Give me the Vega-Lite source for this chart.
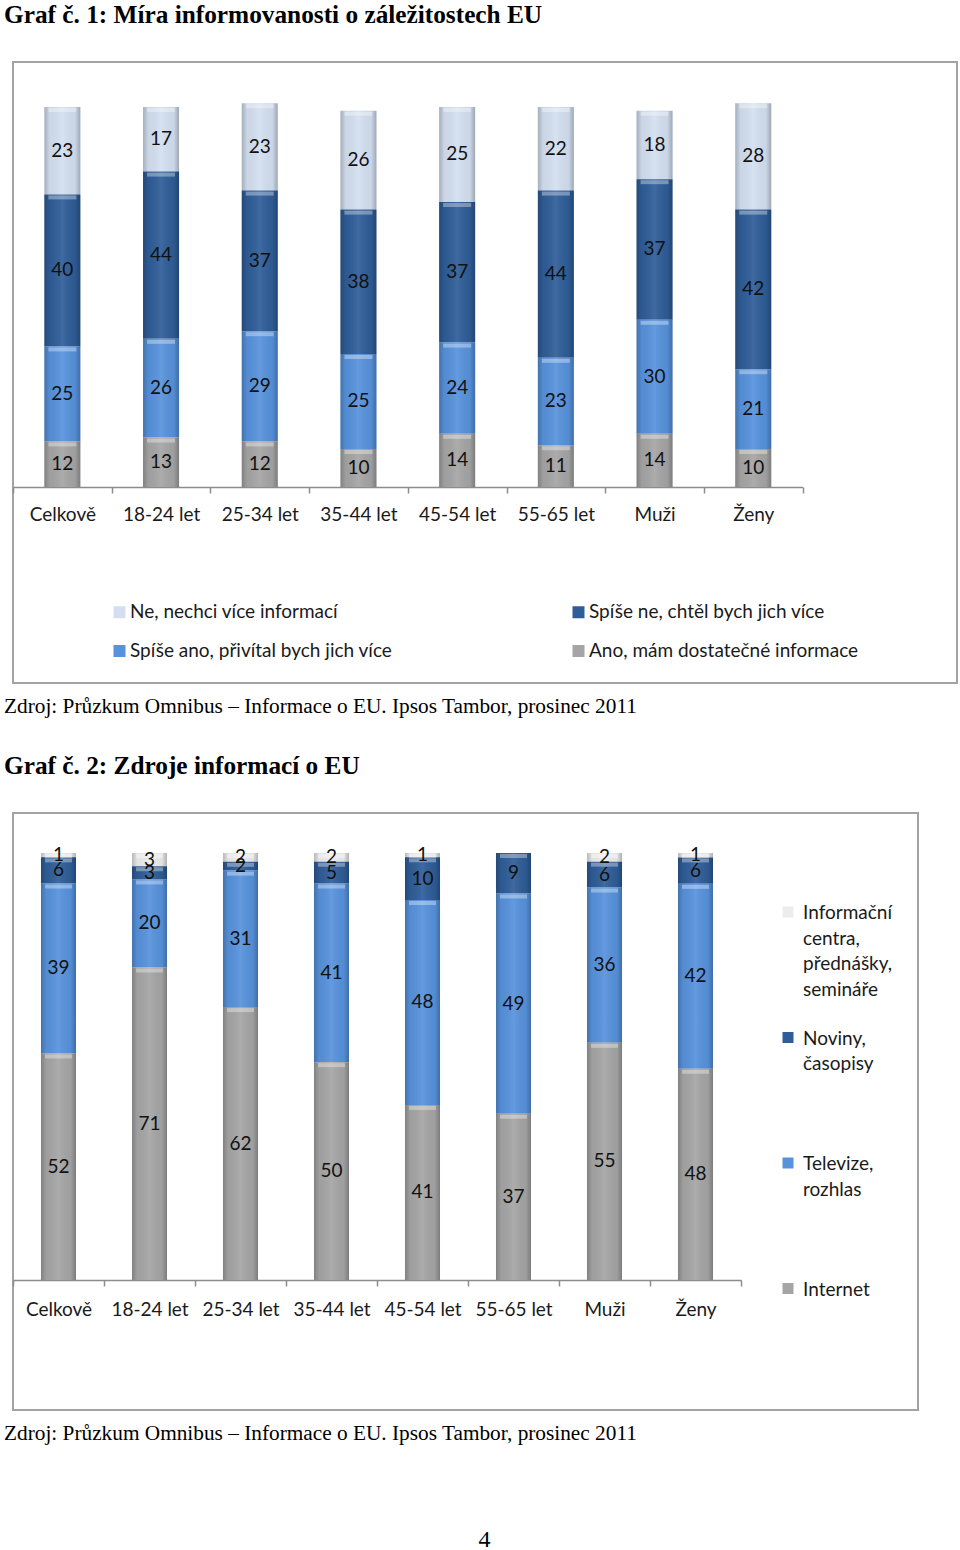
{
  "$schema": "https://vega.github.io/schema/vega-lite/v6.json",
  "background": "white",
  "padding": {"left": 3, "top": 1, "right": 0, "bottom": 0},
  "datasets": {
    "g1": [
      {"kat": "Celkově", "serie": "Ne, nechci více informací", "hodnota": 23, "poradi": 4},
      {"kat": "Celkově", "serie": "Spíše ne, chtěl bych jich více", "hodnota": 40, "poradi": 3},
      {"kat": "Celkově", "serie": "Spíše ano, přivítal bych jich více", "hodnota": 25, "poradi": 2},
      {"kat": "Celkově", "serie": "Ano, mám dostatečné informace", "hodnota": 12, "poradi": 1},
      {"kat": "18-24 let", "serie": "Ne, nechci více informací", "hodnota": 17, "poradi": 4},
      {"kat": "18-24 let", "serie": "Spíše ne, chtěl bych jich více", "hodnota": 44, "poradi": 3},
      {"kat": "18-24 let", "serie": "Spíše ano, přivítal bych jich více", "hodnota": 26, "poradi": 2},
      {"kat": "18-24 let", "serie": "Ano, mám dostatečné informace", "hodnota": 13, "poradi": 1},
      {"kat": "25-34 let", "serie": "Ne, nechci více informací", "hodnota": 23, "poradi": 4},
      {"kat": "25-34 let", "serie": "Spíše ne, chtěl bych jich více", "hodnota": 37, "poradi": 3},
      {"kat": "25-34 let", "serie": "Spíše ano, přivítal bych jich více", "hodnota": 29, "poradi": 2},
      {"kat": "25-34 let", "serie": "Ano, mám dostatečné informace", "hodnota": 12, "poradi": 1},
      {"kat": "35-44 let", "serie": "Ne, nechci více informací", "hodnota": 26, "poradi": 4},
      {"kat": "35-44 let", "serie": "Spíše ne, chtěl bych jich více", "hodnota": 38, "poradi": 3},
      {"kat": "35-44 let", "serie": "Spíše ano, přivítal bych jich více", "hodnota": 25, "poradi": 2},
      {"kat": "35-44 let", "serie": "Ano, mám dostatečné informace", "hodnota": 10, "poradi": 1},
      {"kat": "45-54 let", "serie": "Ne, nechci více informací", "hodnota": 25, "poradi": 4},
      {"kat": "45-54 let", "serie": "Spíše ne, chtěl bych jich více", "hodnota": 37, "poradi": 3},
      {"kat": "45-54 let", "serie": "Spíše ano, přivítal bych jich více", "hodnota": 24, "poradi": 2},
      {"kat": "45-54 let", "serie": "Ano, mám dostatečné informace", "hodnota": 14, "poradi": 1},
      {"kat": "55-65 let", "serie": "Ne, nechci více informací", "hodnota": 22, "poradi": 4},
      {"kat": "55-65 let", "serie": "Spíše ne, chtěl bych jich více", "hodnota": 44, "poradi": 3},
      {"kat": "55-65 let", "serie": "Spíše ano, přivítal bych jich více", "hodnota": 23, "poradi": 2},
      {"kat": "55-65 let", "serie": "Ano, mám dostatečné informace", "hodnota": 11, "poradi": 1},
      {"kat": "Muži", "serie": "Ne, nechci více informací", "hodnota": 18, "poradi": 4},
      {"kat": "Muži", "serie": "Spíše ne, chtěl bych jich více", "hodnota": 37, "poradi": 3},
      {"kat": "Muži", "serie": "Spíše ano, přivítal bych jich více", "hodnota": 30, "poradi": 2},
      {"kat": "Muži", "serie": "Ano, mám dostatečné informace", "hodnota": 14, "poradi": 1},
      {"kat": "Ženy", "serie": "Ne, nechci více informací", "hodnota": 28, "poradi": 4},
      {"kat": "Ženy", "serie": "Spíše ne, chtěl bych jich více", "hodnota": 42, "poradi": 3},
      {"kat": "Ženy", "serie": "Spíše ano, přivítal bych jich více", "hodnota": 21, "poradi": 2},
      {"kat": "Ženy", "serie": "Ano, mám dostatečné informace", "hodnota": 10, "poradi": 1}
    ],
    "g2": [
      {"kat": "Celkově", "serie": "Informační centra, přednášky, semináře", "hodnota": 1, "poradi": 4},
      {"kat": "Celkově", "serie": "Noviny, časopisy", "hodnota": 6, "poradi": 3},
      {"kat": "Celkově", "serie": "Televize, rozhlas", "hodnota": 39, "poradi": 2},
      {"kat": "Celkově", "serie": "Internet", "hodnota": 52, "poradi": 1},
      {"kat": "18-24 let", "serie": "Informační centra, přednášky, semináře", "hodnota": 3, "poradi": 4},
      {"kat": "18-24 let", "serie": "Noviny, časopisy", "hodnota": 3, "poradi": 3},
      {"kat": "18-24 let", "serie": "Televize, rozhlas", "hodnota": 20, "poradi": 2},
      {"kat": "18-24 let", "serie": "Internet", "hodnota": 71, "poradi": 1},
      {"kat": "25-34 let", "serie": "Informační centra, přednášky, semináře", "hodnota": 2, "poradi": 4},
      {"kat": "25-34 let", "serie": "Noviny, časopisy", "hodnota": 2, "poradi": 3},
      {"kat": "25-34 let", "serie": "Televize, rozhlas", "hodnota": 31, "poradi": 2},
      {"kat": "25-34 let", "serie": "Internet", "hodnota": 62, "poradi": 1},
      {"kat": "35-44 let", "serie": "Informační centra, přednášky, semináře", "hodnota": 2, "poradi": 4},
      {"kat": "35-44 let", "serie": "Noviny, časopisy", "hodnota": 5, "poradi": 3},
      {"kat": "35-44 let", "serie": "Televize, rozhlas", "hodnota": 41, "poradi": 2},
      {"kat": "35-44 let", "serie": "Internet", "hodnota": 50, "poradi": 1},
      {"kat": "45-54 let", "serie": "Informační centra, přednášky, semináře", "hodnota": 1, "poradi": 4},
      {"kat": "45-54 let", "serie": "Noviny, časopisy", "hodnota": 10, "poradi": 3},
      {"kat": "45-54 let", "serie": "Televize, rozhlas", "hodnota": 48, "poradi": 2},
      {"kat": "45-54 let", "serie": "Internet", "hodnota": 41, "poradi": 1},
      {"kat": "55-65 let", "serie": "Noviny, časopisy", "hodnota": 9, "poradi": 3},
      {"kat": "55-65 let", "serie": "Televize, rozhlas", "hodnota": 49, "poradi": 2},
      {"kat": "55-65 let", "serie": "Internet", "hodnota": 37, "poradi": 1},
      {"kat": "Muži", "serie": "Informační centra, přednášky, semináře", "hodnota": 2, "poradi": 4},
      {"kat": "Muži", "serie": "Noviny, časopisy", "hodnota": 6, "poradi": 3},
      {"kat": "Muži", "serie": "Televize, rozhlas", "hodnota": 36, "poradi": 2},
      {"kat": "Muži", "serie": "Internet", "hodnota": 55, "poradi": 1},
      {"kat": "Ženy", "serie": "Informační centra, přednášky, semináře", "hodnota": 1, "poradi": 4},
      {"kat": "Ženy", "serie": "Noviny, časopisy", "hodnota": 6, "poradi": 3},
      {"kat": "Ženy", "serie": "Televize, rozhlas", "hodnota": 42, "poradi": 2},
      {"kat": "Ženy", "serie": "Internet", "hodnota": 48, "poradi": 1}
    ]
  },
  "title": {"text": "4", "orient": "bottom", "anchor": "middle", "dx": 4, "font": "Liberation Serif", "fontSize": 24, "fontWeight": "normal", "color": "#000000", "offset": 84},
  "spacing": 34,
  "resolve": {"scale": {"color": "independent"}, "legend": {"color": "independent"}},
  "vconcat": [
    {
      "title": {"text": "Zdroj: Průzkum Omnibus – Informace o EU. Ipsos Tambor, prosinec 2011", "orient": "bottom", "anchor": "start", "frame": "group", "dx": -9, "font": "Liberation Serif", "fontSize": 21.3, "fontWeight": "normal", "color": "#000000", "offset": 12},
      "vconcat": [
        {
          "width": 944,
          "height": 621,
          "view": {"stroke": "#a3a3a3", "strokeWidth": 2},
          "title": {"text": "Graf č. 1: Míra informovanosti o záležitostech EU", "anchor": "start", "frame": "group", "dx": -9, "font": "Liberation Serif", "fontSize": 25.3, "fontWeight": "bold", "color": "#000000", "offset": 34},
          "data": {"name": "g1"},
          "encoding": {
            "x": {
              "field": "kat", "type": "nominal",
              "sort": ["Celkově", "18-24 let", "25-34 let", "35-44 let", "45-54 let", "55-65 let", "Muži", "Ženy"],
              "scale": {"range": [0, 789.6], "paddingInner": 0, "paddingOuter": 0},
              "axis": {"title": null, "orient": "bottom", "offset": -196, "labelAngle": 0, "domainColor": "#8c8c8c", "domainWidth": 1.5, "tickColor": "#8c8c8c", "tickWidth": 1.5, "tickSize": 6, "tickBand": "extent", "labelFont": "Lato", "labelFontSize": 19, "labelColor": "#1a1a1a", "labelPadding": 12}
            },
            "detail": {"field": "serie"},
            "order": {"field": "poradi", "type": "quantitative"}
          },
          "layer": [
            {
              "mark": {"type": "bar", "width": {"band": 0.365}},
              "encoding": {
                "y": {"field": "hodnota", "type": "quantitative", "stack": "zero", "scale": {"domain": [-51.58, 111.84], "nice": false, "zero": false}, "axis": null},
                "color": {
                  "field": "serie", "type": "nominal",
                  "scale": {
                    "domain": ["Ne, nechci více informací", "Spíše ano, přivítal bych jich více", "Spíše ne, chtěl bych jich více", "Ano, mám dostatečné informace"],
                    "range": ["#d3dff0", "#5792dc", "#2f5d98", "#a5a5a5"]
                  },
                  "legend": {"orient": "none", "legendX": 97, "legendY": 540.5, "columns": 2, "title": null, "padding": 0, "symbolType": "square", "symbolSize": 144, "symbolStrokeWidth": 0, "labelOffset": 1, "labelFont": "Lato", "labelFontSize": 19, "labelColor": "#1a1a1a", "labelLimit": 400, "columnPadding": 176, "rowPadding": 19}
                }
              }
            },
            {
              "mark": {"type": "bar", "width": {"band": 0.365}, "fill": {"gradient": "linear", "x1": 0, "x2": 1, "y1": 0, "y2": 0, "stops": [{"offset": 0, "color": "rgba(0,0,0,0.22)"}, {"offset": 0.15, "color": "rgba(0,0,0,0.04)"}, {"offset": 0.5, "color": "rgba(255,255,255,0.08)"}, {"offset": 0.85, "color": "rgba(0,0,0,0.04)"}, {"offset": 1, "color": "rgba(0,0,0,0.25)"}]}},
              "encoding": {
                "y": {"field": "hodnota", "type": "quantitative", "stack": "zero"}
              }
            },
            {
              "mark": {"type": "tick", "size": 28, "thickness": 4, "yOffset": 3, "color": "#ffffff", "opacity": 0.35},
              "encoding": {
                "y": {"field": "hodnota", "type": "quantitative", "stack": "zero"}
              }
            },
            {
              "mark": {"type": "text", "font": "Lato", "fontSize": 19, "color": "#111111"},
              "encoding": {
                "y": {"field": "hodnota", "type": "quantitative", "stack": "zero", "bandPosition": 0.5},
                "text": {"field": "hodnota", "type": "quantitative"}
              }
            }
          ]
        }
      ]
    },
    {
      "title": {"text": "Zdroj: Průzkum Omnibus – Informace o EU. Ipsos Tambor, prosinec 2011", "orient": "bottom", "anchor": "start", "frame": "group", "dx": -9, "font": "Liberation Serif", "fontSize": 21.3, "fontWeight": "normal", "color": "#000000", "offset": 12},
      "vconcat": [
        {
          "width": 905,
          "height": 597,
          "view": {"stroke": "#a3a3a3", "strokeWidth": 2},
          "title": {"text": "Graf č. 2: Zdroje informací o EU", "anchor": "start", "frame": "group", "dx": -9, "font": "Liberation Serif", "fontSize": 25.3, "fontWeight": "bold", "color": "#000000", "offset": 34},
          "data": {"name": "g2"},
          "encoding": {
            "x": {
              "field": "kat", "type": "nominal",
              "sort": ["Celkově", "18-24 let", "25-34 let", "35-44 let", "45-54 let", "55-65 let", "Muži", "Ženy"],
              "scale": {"range": [0, 728], "paddingInner": 0, "paddingOuter": 0},
              "axis": {"title": null, "orient": "bottom", "offset": -130, "labelAngle": 0, "domainColor": "#8c8c8c", "domainWidth": 1.5, "tickColor": "#8c8c8c", "tickWidth": 1.5, "tickSize": 6, "tickBand": "extent", "labelFont": "Lato", "labelFontSize": 19, "labelColor": "#1a1a1a", "labelPadding": 14}
            },
            "detail": {"field": "serie"},
            "order": {"field": "poradi", "type": "quantitative"}
          },
          "layer": [
            {
              "mark": {"type": "bar", "width": {"band": 0.385}},
              "encoding": {
                "y": {"field": "hodnota", "type": "quantitative", "stack": "normalize", "scale": {"domain": [-0.3044, 1.0937], "nice": false, "zero": false}, "axis": null},
                "color": {
                  "field": "serie", "type": "nominal",
                  "scale": {
                    "domain": ["Informační centra, přednášky, semináře", "Noviny, časopisy", "Televize, rozhlas", "Internet"],
                    "range": ["#ececec", "#2f5d98", "#5792dc", "#a5a5a5"]
                  },
                  "legend": {"orient": "none", "legendX": 765.5, "legendY": 89.5, "direction": "vertical", "gridAlign": "all", "title": null, "padding": 0, "symbolType": "square", "symbolSize": 121, "symbolStrokeWidth": 0, "labelOffset": 5.5, "labelFont": "Lato", "labelFontSize": 19, "labelColor": "#1a1a1a", "labelBaseline": "top", "labelExpr": "split(datum.label, ' ')", "rowPadding": 28.5,
                    "encode": {"labels": {"update": {"dy": {"value": -8}, "lineHeight": {"value": 25.5}}}}}
                }
              }
            },
            {
              "mark": {"type": "bar", "width": {"band": 0.385}, "fill": {"gradient": "linear", "x1": 0, "x2": 1, "y1": 0, "y2": 0, "stops": [{"offset": 0, "color": "rgba(0,0,0,0.22)"}, {"offset": 0.15, "color": "rgba(0,0,0,0.04)"}, {"offset": 0.5, "color": "rgba(255,255,255,0.08)"}, {"offset": 0.85, "color": "rgba(0,0,0,0.04)"}, {"offset": 1, "color": "rgba(0,0,0,0.25)"}]}},
              "encoding": {
                "y": {"field": "hodnota", "type": "quantitative", "stack": "normalize"}
              }
            },
            {
              "mark": {"type": "tick", "size": 27, "thickness": 4, "yOffset": 3, "color": "#ffffff", "opacity": 0.35},
              "encoding": {
                "y": {"field": "hodnota", "type": "quantitative", "stack": "normalize"}
              }
            },
            {
              "mark": {"type": "text", "font": "Lato", "fontSize": 19, "color": "#111111"},
              "encoding": {
                "y": {"field": "hodnota", "type": "quantitative", "stack": "normalize", "bandPosition": 0.5},
                "text": {"field": "hodnota", "type": "quantitative"}
              }
            }
          ]
        }
      ]
    }
  ]
}
